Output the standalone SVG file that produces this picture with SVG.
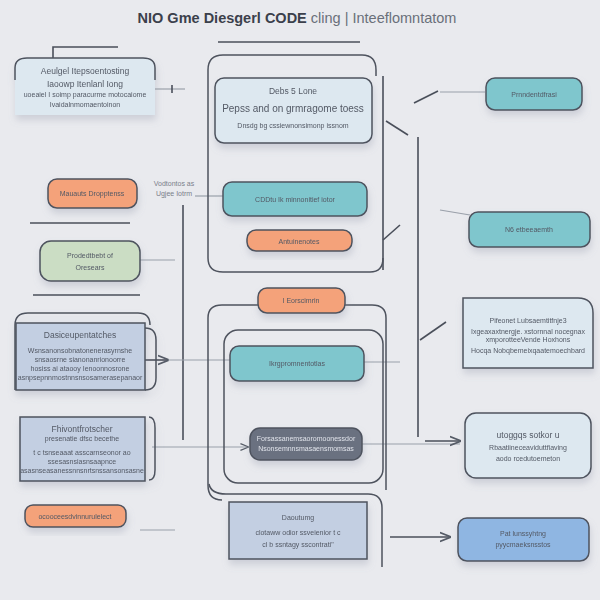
<svg xmlns="http://www.w3.org/2000/svg" width="600" height="600" viewBox="0 0 600 600">
<defs>
<filter id="sh" x="-20%" y="-20%" width="140%" height="160%"><feDropShadow dx="1" dy="5" stdDeviation="3.5" flood-color="#8a93a6" flood-opacity="0.3"/></filter>
<marker id="ar" viewBox="0 0 10 10" refX="9" refY="5" markerWidth="7" markerHeight="7" orient="auto"><path d="M0,1 L10,5 L0,9" fill="none" stroke="#555b66" stroke-width="1.5"/></marker>
<style>
.t{font-family:"Liberation Sans",Arial,sans-serif;fill:#535965;text-anchor:middle}
.s{font-size:7px}
.m{font-size:8.5px}
.ln{stroke:#4a4f5a;stroke-width:1.6;fill:none}
.lt{stroke:#9aa0aa;stroke-width:1.2;fill:none}
.box{stroke:#4e535e;stroke-width:1.5}
.or{fill:#f4a27a}
.te{fill:#7fc6cd}
.bl{fill:#c3cfe2}
.lb{fill:#dde8f0}
</style>
</defs>
<rect width="600" height="600" fill="#e9eaee"/>
<text x="297" y="23" class="t" style="font-size:14.5px;font-weight:bold;fill:#3b404b">NIO Gme Diesgerl CODE <tspan style="font-weight:normal;fill:#6a707a">cling | Inteeflomntatom</tspan></text>

<g id="connectors">
<path class="ln" d="M53,58 V47 H118"/>
<path class="ln" d="M218,42 H360"/>
<path class="lt" d="M155,89 H185"/><path class="ln" d="M172,85 V93"/>
<path class="ln" d="M30,223 H130"/>
<path class="ln" d="M33,295 H140"/>
<path class="ln" d="M183,205 V440"/>
<path class="lt" d="M195,196 H223"/>
<path class="lt" d="M140,260 H175"/>
<path class="ln" d="M145,360 H168" marker-end="url(#ar)"/>
<path class="lt" d="M168,360 H230"/>
<path class="lt" d="M152,447 H248" marker-end="url(#ar)"/>
<path class="lt" d="M362,444 H460"/>
<path class="ln" d="M425,441 H460" marker-end="url(#ar)"/>
<path class="ln" d="M418,137 V437"/>
<path class="ln" d="M383,76 V270"/>
<path class="ln" d="M414,103 L438,91"/>
<path class="lt" d="M440,92 H485"/>
<path class="ln" d="M386,121 L408,135"/>
<path class="ln" d="M383,240 L400,225"/>
<path class="ln" d="M420,340 L446,322"/>
<path class="lt" d="M440,210 L470,215"/>
<path class="lt" d="M364,362 H400"/>
<path class="ln" d="M390,537 H450" marker-end="url(#ar)"/>
<path class="lt" d="M140,530 H175"/>
</g>

<g id="container1"><path d="M208,258 V70 Q208,55 223,55 H362 Q376,55 376,70 V76" fill="none" class="box"/><path d="M208,258 Q208,272 223,272 H370 Q383,272 383,258" fill="none" class="box"/></g>
<g id="container2"><path d="M222,500 Q208,500 208,485 V318 Q208,305 222,305 H372 Q386,305 386,318 V490" fill="none" class="box"/>
<rect x="224" y="330" width="159" height="153" rx="14" fill="none" class="box"/>
<path d="M209,484 Q211,494 226,494 H368 Q382,494 382,508 V567" fill="none" class="box"/></g>

<g id="n1" filter="url(#sh)"><path d="M15,115 V68 Q15,58 27,58 H143 Q155,58 155,68 V115 Z" class="lb"/><path d="M15,80 V68 Q15,58 27,58 H143 Q155,58 155,68 V80" fill="none" class="box"/>
<text x="85" y="74" class="t m">Aeulgel Itepsoentosting</text>
<text x="85" y="87" class="t m">Iaoowp Itenlanl Iong</text>
<text x="85" y="97" class="t s">uoeaiel I soimp paracurme motocaiome</text>
<text x="85" y="107" class="t s">Ivaidalnmomaentoinon</text></g>

<g id="n2" filter="url(#sh)"><rect x="215" y="78" width="157" height="65" rx="9" class="lb box"/>
<text x="293" y="94" class="t m">Debs 5 Lone</text>
<text x="293" y="112" class="t" style="font-size:10px">Pepss and on grmragome toess</text>
<text x="293" y="128" class="t s">Dnsdg bg cssiewnonsimonp issnom</text></g>

<g id="n3" filter="url(#sh)"><rect x="486" y="78" width="96" height="32" rx="9" class="te box"/>
<text x="534" y="97" class="t s">Prnndentdfrasi</text></g>

<g id="n4" filter="url(#sh)"><rect x="48" y="179" width="89" height="29" rx="9" class="or box"/>
<text x="92" y="196" class="t s">Mauauts Dropptenss</text></g>

<text x="174" y="186" class="t s" style="fill:#7a808a">Vodtontos as</text>
<text x="174" y="196" class="t s" style="fill:#7a808a">Ugjee Iotrm</text>

<g id="n5" filter="url(#sh)"><rect x="223" y="182" width="144" height="34" rx="9" class="te box"/>
<text x="295" y="202" class="t s">CDDtu Ik minnonitief iotor</text></g>

<g id="n6" filter="url(#sh)"><rect x="469" y="212" width="121" height="35" rx="9" class="te box"/>
<text x="529" y="232" class="t s">N6 etbeeaemth</text></g>

<g id="n7" filter="url(#sh)"><rect x="247" y="230" width="105" height="21" rx="9" class="or box"/>
<text x="299" y="244" class="t s">Antuinenotes</text></g>

<g id="n8" filter="url(#sh)"><rect x="40" y="241" width="100" height="40" rx="11" style="fill:#cbddc4" class="box"/>
<text x="90" y="258" class="t s">Prodedtbebt of</text>
<text x="90" y="270" class="t s">Oresears</text></g>

<g id="n9" filter="url(#sh)"><rect x="258" y="288" width="87" height="25" rx="9" class="or box"/>
<text x="301" y="303" class="t s">I Eorscimrin</text></g>

<g id="n10" filter="url(#sh)"><path d="M463,298 H578 Q593,298 593,313 V368 H463 Z" class="lb box"/>
<text x="528" y="323" class="t s">Pifeonet Lubsaemtitfnje3</text>
<text x="528" y="334" class="t s">Ixgeaxaxtnergje. xstornnal nocegnax</text>
<text x="528" y="342" class="t s">xmporotteeVende Hoxhons</text>
<text x="528" y="353" class="t s">Hocqa Nobqbemeixqaatemoechbard</text></g>

<g id="n11" filter="url(#sh)"><path d="M15,390 V325 Q15,313 28,313 H138 Q150,313 150,325" fill="none" class="box"/>
<rect x="16" y="323" width="129" height="67" class="bl box"/>
<path d="M145,328 Q156,328 156,340 V378 Q156,390 145,390" fill="none" class="box"/>
<text x="80" y="338" class="t m">Dasiceupentatches</text>
<text x="80" y="353" class="t s">Wsnsanonsobnatonenerasyrnshe</text>
<text x="80" y="362" class="t s">snsaosrne sianonanrionoorre</text>
<text x="80" y="371" class="t s">hosiss ai ataooy Ienoonnosrone</text>
<text x="80" y="380" class="t s">asnpsepnnmostnnsnsosamerasepanaor</text></g>

<g id="n12" filter="url(#sh)"><rect x="230" y="346" width="134" height="35" rx="9" class="te box"/>
<text x="297" y="366" class="t s">Ikrgpromnentotlas</text></g>

<g id="n13" filter="url(#sh)"><rect x="20" y="417" width="125" height="64" class="bl box"/>
<path d="M149,417 Q155,417 155,428 V470 Q155,480 149,480" fill="none" class="box"/>
<text x="82" y="432" class="t m">Fhivontfrotscher</text>
<text x="82" y="441" class="t s">presenatie dfsc becethe</text>
<text x="82" y="455" class="t s">t c tsnseaaat asscarnseonor ao</text>
<text x="82" y="464" class="t s">ssesasnsiasnsaapnce</text>
<text x="82" y="473" class="t s">asasnseasanessnnsnrtsnssansonsasne</text></g>

<g id="n14" filter="url(#sh)"><rect x="250" y="428" width="112" height="32" rx="10" style="fill:#6b7180" class="box"/>
<text x="306" y="441" class="t s" style="fill:#dfe3ea">Forsassanemsaoromoonessdor</text>
<text x="306" y="451" class="t s" style="fill:#dfe3ea">Nsonsemnnsmasaensmomsas</text></g>

<g id="n15" filter="url(#sh)"><rect x="465" y="413" width="126" height="65" rx="11" class="lb box"/>
<text x="528" y="438" class="t m">utoggqs sotkor u</text>
<text x="528" y="450" class="t s">Rbaatiineceaviduttfiaving</text>
<text x="528" y="461" class="t s">aodo rcedutoemeton</text></g>

<g id="n16" filter="url(#sh)"><rect x="25" y="505" width="101" height="22" rx="8" class="or box"/>
<text x="75" y="519" class="t s">ocooceesdvinnurulelect</text></g>

<g id="n17" filter="url(#sh)"><rect x="229" y="502" width="138" height="57" class="bl box"/>
<text x="298" y="520" class="t s">Daoutumg</text>
<text x="298" y="535" class="t s">clotaww odior ssveienior t c</text>
<text x="298" y="547" class="t s">cl b ssntagy sscontrati"</text></g>

<g id="n18" filter="url(#sh)"><rect x="458" y="518" width="131" height="43" rx="9" style="fill:#8fb6e2" class="box"/>
<text x="523" y="536" class="t s">Pat lunssyhtng</text>
<text x="523" y="547" class="t s">pyycmaeksnsstos</text></g>
</svg>
